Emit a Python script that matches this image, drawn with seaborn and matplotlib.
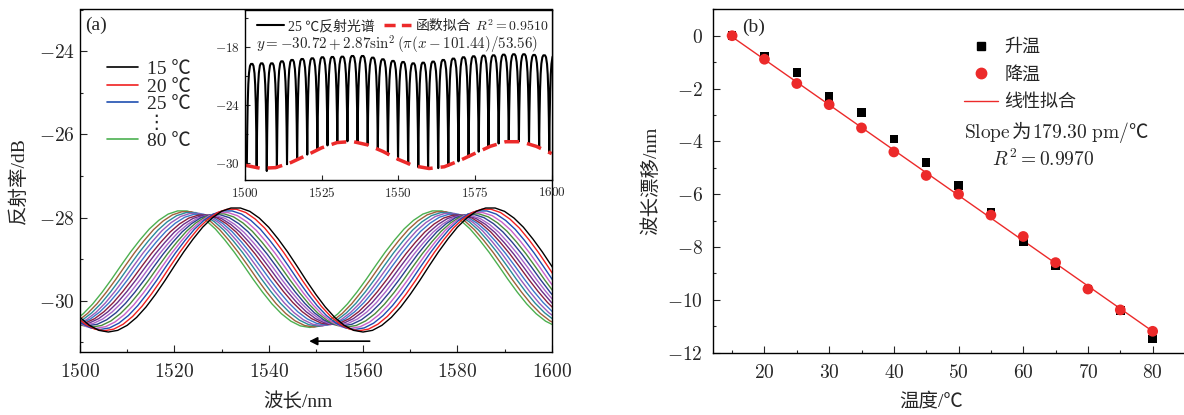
import numpy as np
import pandas as pd
import matplotlib
matplotlib.use("Agg")
import matplotlib.pyplot as plt
from matplotlib.lines import Line2D
from matplotlib.ticker import MultipleLocator, FuncFormatter
import seaborn as sns

# ---------------- panel (a) data ----------------
temps = [15, 20, 25, 30, 35, 40, 45, 50, 55, 60, 65, 70, 75, 80]
# 15 C reflection spectrum, read every 2 nm from 1486 to 1612 nm
base_wl = np.arange(1486, 1613, 2)
base_refl = [
    -28.24, -28.52, -28.83, -29.17, -29.52, -29.85, -30.15, -30.40, -30.59, -30.71,
    -30.75, -30.71, -30.59, -30.40, -30.15, -29.85, -29.52, -29.17, -28.83, -28.52,
    -28.24, -28.02, -27.86, -27.78, -27.78, -27.86, -28.02, -28.24, -28.52, -28.83,
    -29.17, -29.52, -29.85, -30.15, -30.40, -30.59, -30.71, -30.75, -30.71, -30.59,
    -30.40, -30.15, -29.85, -29.52, -29.17, -28.83, -28.52, -28.24, -28.02, -27.86,
    -27.78, -27.78, -27.86, -28.02, -28.24, -28.52, -28.83, -29.17, -29.52, -29.85,
    -30.15, -30.40, -30.59, -30.71,
]
# blue shift of each spectrum relative to 15 C (nm), and its peak / dip level (dB)
spec_shift = [0, 0.85, 1.75, 2.6, 3.45, 4.35, 5.2, 6.05, 6.9, 7.8, 8.65, 9.5, 10.4, 11.3]
spec_peak = [-27.77, -27.80, -27.84, -27.88, -27.91, -27.93, -27.95,
             -27.95, -27.94, -27.92, -27.90, -27.88, -27.86, -27.84]
spec_dip = [-30.75, -30.72, -30.69, -30.66, -30.63, -30.60, -30.58,
            -30.57, -30.57, -30.58, -30.60, -30.61, -30.63, -30.64]
curve_colors = ["#000000", "#f02020", "#1f4fb0", "#c860c8", "#4a8a3a", "#2a3f8f", "#a865c9",
                "#6a2f8a", "#8b1f3f", "#3a78c8", "#9a5ab8", "#2a8a9a", "#a0603a", "#4cb050"]

# inset: 25 C spectrum fringes
dip_wl = [1500.6, 1503.8, 1507.1, 1510.4, 1513.7, 1517.0, 1520.3, 1523.6, 1526.9, 1530.1,
          1533.4, 1536.7, 1540.0, 1543.3, 1546.6, 1549.9, 1553.2, 1556.5, 1559.7, 1563.0,
          1566.3, 1569.6, 1572.9, 1576.2, 1579.4, 1582.7, 1586.0, 1589.3, 1592.6, 1595.9, 1599.2]
dip_lvl = [-30.2, -30.5, -30.8, -30.45, -30.1, -29.65, -29.1, -28.6, -28.15, -27.85,
           -27.72, -27.8, -28.1, -28.55, -29.1, -29.65, -30.1, -30.4, -30.55, -30.5,
           -30.25, -29.8, -29.35, -28.8, -28.3, -27.95, -27.75, -27.73, -27.97, -28.35, -28.9]
peak_lvl = [-19.72, -19.66, -19.66, -19.45, -19.31, -19.21, -19.14, -19.03, -19.0, -18.97,
            -18.9, -18.9, -19.07, -19.24, -19.41, -19.52, -19.66, -19.59, -19.48, -19.31,
            -19.17, -19.03, -18.93, -18.86, -18.83, -18.76, -18.72, -18.72, -18.79, -18.83, -18.8]
# fitted envelope (dashed)
env_wl = [1500, 1505, 1510, 1515, 1520, 1525, 1530, 1535, 1540, 1545, 1550,
          1555, 1560, 1565, 1570, 1575, 1580, 1585, 1590, 1595, 1600]
env_lvl = [-30.20, -30.52, -30.45, -29.92, -29.18, -28.40, -27.86, -27.74, -28.10, -28.78, -29.60,
           -30.26, -30.54, -30.36, -29.72, -28.97, -28.24, -27.77, -27.77, -28.25, -29.00]

# ---------------- panel (b) data ----------------
heat_shift = [0, -0.79, -1.40, -2.31, -2.90, -3.91, -4.79, -5.68, -6.67, -7.81, -8.71, -9.59, -10.40, -11.48]
cool_shift = [0, -0.89, -1.81, -2.61, -3.49, -4.40, -5.29, -6.00, -6.79, -7.60, -8.59, -9.59, -10.38, -11.19]

RED = "#ec2a2a"

sns.set_style("ticks")
plt.rcParams["font.family"] = ["Liberation Serif", "Noto Sans CJK SC", "DejaVu Sans"]
plt.rcParams["mathtext.fontset"] = "cm"
plt.rcParams["xtick.direction"] = "in"
plt.rcParams["ytick.direction"] = "in"
plt.rcParams["axes.linewidth"] = 1.0
plt.rcParams["xtick.major.width"] = 0.8
plt.rcParams["ytick.major.width"] = 0.8
plt.rcParams["xtick.minor.width"] = 0.8
plt.rcParams["ytick.minor.width"] = 0.8

mfmt = FuncFormatter(lambda v, p: f"${v:g}$")

fig = plt.figure(figsize=(11.84, 4.15), dpi=100)


def style_ticks(ax, size, padx, pady, maj=4.8, mnr=2.4):
    ax.xaxis.set_major_formatter(mfmt)
    ax.yaxis.set_major_formatter(mfmt)
    ax.tick_params(which="major", length=maj, labelsize=size)
    ax.tick_params(which="minor", length=mnr)
    ax.tick_params(axis="x", which="major", pad=padx)
    ax.tick_params(axis="y", which="major", pad=pady)
    for sp in ax.spines.values():
        sp.set_visible(True)
        sp.set_color("black")


def put_pieces(ax, x, y, pieces, size, gaps):
    # text pieces side by side on one baseline (math parts in CM, CJK parts in Noto)
    t = ax.text(x, y, pieces[0], transform=ax.transAxes, fontsize=size, ha="left", va="baseline")
    _, yb = ax.transAxes.transform((x, y))
    for p, g in zip(pieces[1:], gaps):
        fig.canvas.draw()
        bb = t.get_window_extent()
        t = fig.text((bb.x1 + g) / fig.bbox.width, yb / fig.bbox.height, p,
                     fontsize=size, ha="left", va="baseline")
    return t


# ---------------- (a) main ----------------
ax = fig.add_axes([80 / 1184, 1 - 352 / 415, 471.7 / 1184, 342.5 / 415])
bmin, bmax = min(base_refl), max(base_refl)
rows = []
for t, s, pk, dp in zip(temps, spec_shift, spec_peak, spec_dip):
    norm = (np.array(base_refl) - bmin) / (bmax - bmin)
    rows.append(pd.DataFrame({"wl": base_wl - s, "refl": dp + (pk - dp) * norm, "temp": t}))
spec = pd.concat(rows, ignore_index=True)
sns.lineplot(data=spec, x="wl", y="refl", hue="temp", palette=dict(zip(temps, curve_colors)),
             hue_order=temps[::-1], estimator=None, sort=False, lw=1.0, legend=False, ax=ax)
ax.set_xlim(1500, 1600)
ax.set_ylim(-31.23, -23.0)
ax.xaxis.set_major_locator(MultipleLocator(20))
ax.xaxis.set_minor_locator(MultipleLocator(10))
ax.yaxis.set_major_locator(MultipleLocator(2))
ax.yaxis.set_minor_locator(MultipleLocator(1))
style_ticks(ax, 14, 8, 3.5)
ax.set_xlabel("波长/nm", fontsize=14)
ax.set_ylabel("反射率/dB", fontsize=14)
ax.xaxis.set_label_coords(0.462, -0.12)
ax.yaxis.set_label_coords(-0.11, 0.5)
ax.annotate("", xy=(1548, -30.97), xytext=(1562, -30.97),
            arrowprops=dict(arrowstyle="-|>", color="black", lw=1.2, mutation_scale=12))
ax.text(0.011, 0.955, "(a)", transform=ax.transAxes, fontsize=14, va="center", ha="left")

leg_handles = [Line2D([], [], color=curve_colors[0], lw=1.2),
               Line2D([], [], color=curve_colors[1], lw=1.2),
               Line2D([], [], color=curve_colors[2], lw=1.2),
               Line2D([], [], color="none", lw=0),
               Line2D([], [], color=curve_colors[-1], lw=1.2)]
leg_labels = ["15 ℃", "20 ℃", "25 ℃", "⋮", "80 ℃"]
leg = ax.legend(leg_handles, leg_labels, loc="upper left", bbox_to_anchor=(0.036, 0.88),
                frameon=False, fontsize=14, handlelength=1.6, handletextpad=0.45,
                labelspacing=0.0, borderpad=0)
leg.get_texts()[3].set_fontfamily("DejaVu Sans")

# ---------------- (a) inset ----------------
axi = fig.add_axes([245 / 1184, 1 - 180 / 415, 306.7 / 1184, 170 / 415])
fr_x, fr_y = [], []
prof_t = [0, 0.04, 0.09, 0.15, 0.22, 0.32, 0.42, 0.5, 0.58, 0.68, 0.78, 0.85, 0.91, 0.96]
prof_v = [0, 0.35, 0.62, 0.80, 0.91, 0.98, 1.0, 1.0, 1.0, 0.98, 0.91, 0.80, 0.62, 0.35]
for k, p in enumerate(peak_lvl):
    x0, d0 = dip_wl[k], dip_lvl[k]
    if k + 1 < len(dip_wl):
        x1, d1 = dip_wl[k + 1], dip_lvl[k + 1]
    else:
        x1, d1 = x0 + (dip_wl[k] - dip_wl[k - 1]), d0
    for t, v in zip(prof_t, prof_v):
        b = d0 + (d1 - d0) * t
        fr_x.append(x0 + (x1 - x0) * t)
        fr_y.append(b + (p - b) * v)
fringe = pd.DataFrame({"wl": fr_x, "refl": fr_y})
env = pd.DataFrame({"wl": env_wl, "refl": env_lvl})
sns.lineplot(data=fringe, x="wl", y="refl", color="black", lw=1.5, estimator=None, sort=False, ax=axi)
sns.lineplot(data=env, x="wl", y="refl", color=RED, lw=2.5, estimator=None, ax=axi,
             dashes=False, linestyle=(0, (4.3, 2.3)))
axi.set_xlim(1500, 1600)
axi.set_ylim(-31.73, -14.14)
axi.xaxis.set_major_locator(MultipleLocator(25))
axi.yaxis.set_major_locator(MultipleLocator(6))
axi.yaxis.set_minor_locator(MultipleLocator(3))
style_ticks(axi, 9.5, 4.5, 3.5, maj=3.5, mnr=2)
axi.set_xlabel("")
axi.set_ylabel("")
ih = [Line2D([], [], color="black", lw=1.5),
      Line2D([], [], color=RED, lw=2.5, linestyle=(0, (3.2, 1.8)))]
ileg = axi.legend(ih, ["25 ℃反射光谱", "函数拟合"], loc="upper left", bbox_to_anchor=(0.015, 0.985),
                  ncol=2, frameon=False, fontsize=10, handlelength=2.0, handletextpad=0.3,
                  columnspacing=0.6, borderpad=0)
axi.text(0.496, 0.794, r"$y=-30.72+2.87\sin^2(\pi(x-101.44)/53.56)$", transform=axi.transAxes,
         fontsize=10.8, ha="center", va="center")

# ---------------- (b) ----------------
axb = fig.add_axes([712.7 / 1184, 1 - 352.7 / 415, 472.3 / 1184, 343.4 / 415])
sns.regplot(x=temps, y=cool_shift, scatter=False, ci=None, color=RED, line_kws={"lw": 1.0}, ax=axb)
sns.scatterplot(x=temps, y=heat_shift, marker="s", color="black", s=38, edgecolor="none", ax=axb, zorder=3)
sns.scatterplot(x=temps, y=cool_shift, marker="o", color=RED, s=60, edgecolor="none", ax=axb, zorder=4)
axb.set_xlim(12, 85)
axb.set_ylim(-12, 1)
axb.xaxis.set_major_locator(MultipleLocator(10))
axb.xaxis.set_minor_locator(MultipleLocator(5))
axb.yaxis.set_major_locator(MultipleLocator(2))
axb.yaxis.set_minor_locator(MultipleLocator(1))
style_ticks(axb, 14, 8, 7)
axb.set_xlabel("温度/℃", fontsize=14)
axb.set_ylabel("波长漂移/nm", fontsize=14)
axb.xaxis.set_label_coords(0.462, -0.117)
axb.yaxis.set_label_coords(-0.1116, 0.5)
axb.text(0.062, 0.948, "(b)", transform=axb.transAxes, fontsize=14, va="center", ha="left")
bh = [Line2D([], [], color="black", marker="s", lw=0, markersize=6),
      Line2D([], [], color=RED, marker="o", lw=0, markersize=7.5),
      Line2D([], [], color=RED, lw=1.0)]
axb.legend(bh, ["升温", "降温", "线性拟合"], loc="upper left", bbox_to_anchor=(0.512, 0.94),
           frameon=False, fontsize=13, handlelength=1.9, handletextpad=0.35,
           labelspacing=0.58, borderpad=0)
put_pieces(axb, 0.5325, 0.625, [r"$\mathrm{Slope}$", "为", r"$179.30\ \mathrm{pm}/$", "℃"], 14,
           [1, 1, -2])
axb.text(0.591, 0.5636, r"$R^2=0.9970$", transform=axb.transAxes, fontsize=14,
         ha="left", va="center")

# R^2 after the inset legend's second label
fig.canvas.draw()
bb = ileg.get_texts()[1].get_window_extent()
fig.text((bb.x1 + 4) / fig.bbox.width, (bb.y0 + bb.y1) / 2 / fig.bbox.height,
         r"$R^2=0.9510$", fontsize=10, ha="left", va="center")

fig.savefig("out.png", dpi=100)
